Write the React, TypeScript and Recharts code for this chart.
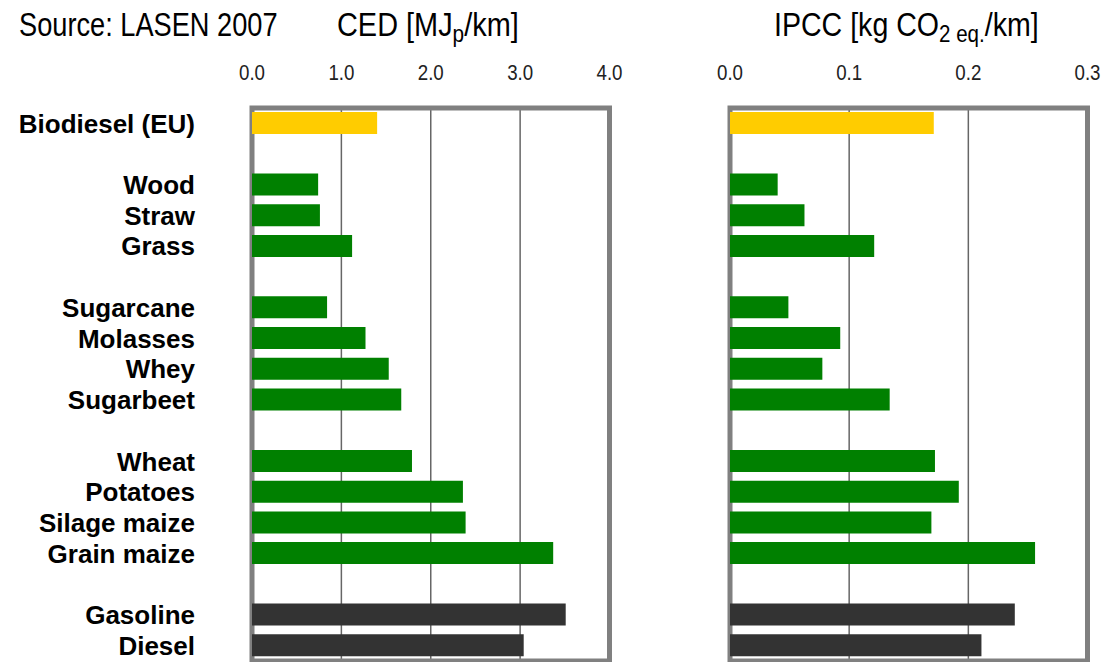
import React from "react";
import {
  BarChart,
  Bar,
  XAxis,
  YAxis,
  CartesianGrid,
  ReferenceArea,
  Cell,
} from "recharts";

// rows from top to bottom; "" rows are the blank spacer rows between groups
const categories = [
  "Biodiesel (EU)",
  "",
  "Wood",
  "Straw",
  "Grass",
  "",
  "Sugarcane",
  "Molasses",
  "Whey",
  "Sugarbeet",
  "",
  "Wheat",
  "Potatoes",
  "Silage maize",
  "Grain maize",
  "",
  "Gasoline",
  "Diesel",
];

const groups = [
  "ref", "", "bio", "bio", "bio", "", "bio", "bio", "bio", "bio", "",
  "bio", "bio", "bio", "bio", "", "fossil", "fossil",
];

const cedValues = [
  1.4, null, 0.74, 0.76, 1.12, null, 0.84, 1.27, 1.53, 1.67, null,
  1.79, 2.36, 2.39, 3.37, null, 3.51, 3.04,
];

const ipccValues = [
  0.171, null, 0.04, 0.0625, 0.121, null, 0.049, 0.0925, 0.0775, 0.134, null,
  0.172, 0.192, 0.169, 0.256, null, 0.239, 0.211,
];

const cedTicks = [0, 1, 2, 3, 4];
const ipccTicks = [0, 0.1, 0.2, 0.3];

const groupColors: Record<string, string> = {
  ref: "#FFCC00",
  bio: "#008000",
  fossil: "#333333",
};

const sans = "'Liberation Sans', Arial, sans-serif";

const rows = categories.map((name, i) => ({
  key: name || `gap${i}`,
  name,
  ced: cedValues[i],
  ipcc: ipccValues[i],
  group: groups[i],
}));

// condensed tick label (Arial Narrow look)
function NarrowTick(props: any) {
  const { x, y, payload } = props;
  return (
    <text
      transform={`translate(${x},${y}) scale(0.85,1)`}
      textAnchor="middle"
      fontFamily={sans}
      fontSize={22}
      fill="#222"
    >
      {Number(payload.value).toFixed(1)}
    </text>
  );
}

function Panel({
  dataKey,
  ticks,
  left,
  width,
  marginLeft,
  marginRight,
  showLabels,
}: {
  dataKey: string;
  ticks: number[];
  left: number;
  width: number;
  marginLeft: number;
  marginRight: number;
  showLabels: boolean;
}) {
  const max = ticks[ticks.length - 1];
  return (
    <div style={{ position: "absolute", left, top: 0 }}>
      <BarChart
        width={width}
        height={668}
        data={rows}
        layout="vertical"
        margin={{ top: 68, right: marginRight, bottom: 7, left: marginLeft }}
      >
        <CartesianGrid horizontal={false} stroke="#666666" strokeWidth={1.5} />
        <XAxis
          type="number"
          orientation="top"
          domain={[0, max]}
          ticks={ticks}
          interval={0}
          height={40}
          axisLine={false}
          tickLine={false}
          tickSize={0}
          tickMargin={28}
          tick={<NarrowTick />}
        />
        <YAxis
          type="category"
          dataKey="key"
          hide={!showLabels}
          width={showLabels ? 252 : 0}
          axisLine={false}
          tickLine={false}
          tickSize={0}
          tickMargin={57}
          interval={0}
          tickFormatter={(k: string) => (k.startsWith("gap") ? "" : k)}
          tick={{ fontSize: 26, fontWeight: "bold", fill: "#000", fontFamily: sans }}
        />
        <Bar dataKey={dataKey} barSize={22} isAnimationActive={false}>
          {rows.map((r, i) => (
            <Cell key={i} fill={groupColors[r.group] || "none"} />
          ))}
        </Bar>
        <ReferenceArea
          x1={0}
          x2={max}
          fill="none"
          stroke="#808080"
          strokeWidth={5}
          ifOverflow="visible"
        />
      </BarChart>
    </div>
  );
}

export default function App() {
  const titleStyle: React.CSSProperties = {
    position: "absolute",
    top: 5,
    fontFamily: sans,
    fontSize: 34,
    color: "#000",
    whiteSpace: "nowrap",
    lineHeight: "38px",
    transformOrigin: "left top",
  };
  const subStyle: React.CSSProperties = {
    fontSize: "0.72em",
    verticalAlign: "-0.25em",
    lineHeight: 0,
  };
  return (
    <div
      style={{
        position: "relative",
        width: 1117,
        height: 662,
        overflow: "hidden",
        background: "#fff",
      }}
    >
      <style>{"body{margin:0}"}</style>
      <Panel
        dataKey="ced"
        ticks={cedTicks}
        left={0}
        width={645}
        marginLeft={0}
        marginRight={35.5}
        showLabels
      />
      <Panel
        dataKey="ipcc"
        ticks={ipccTicks}
        left={620}
        width={497}
        marginLeft={110}
        marginRight={29.5}
        showLabels={false}
      />
      <div style={{ ...titleStyle, left: 19, transform: "scaleX(0.8)" }}>
        Source: LASEN 2007
      </div>
      <div style={{ ...titleStyle, left: 337, transform: "scaleX(0.85)" }}>
        CED [MJ<span style={subStyle}>p</span>/km]
      </div>
      <div style={{ ...titleStyle, left: 774, transform: "scaleX(0.84)" }}>
        IPCC [kg CO<span style={subStyle}>2 eq.</span>/km]
      </div>
    </div>
  );
}
